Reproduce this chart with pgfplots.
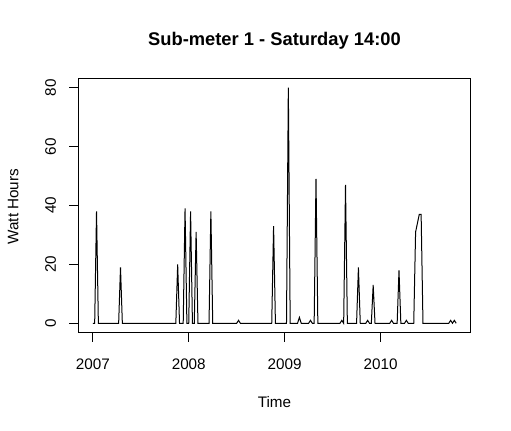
\documentclass[border=0pt]{standalone}
\usepackage{fontspec}
\setmainfont{Liberation Sans}
\usepackage{pgfplots}
\pgfplotsset{compat=1.18}
\begin{document}
\fontsize{15.3}{18}\selectfont
\begin{tikzpicture}
\begin{axis}[
  at={(0,0)}, anchor=south west,
  scale only axis, width=392.4bp, height=254.4bp,
  xmin=-7.88, xmax=204.88, ymin=-3.2, ymax=83.2,
  xtick={0,52,104,156}, xticklabels={2007,2008,2009,2010},
  ytick={0,20,40,60,80},
  tick align=outside, major tick length=9bp,
  xtick pos=left, ytick pos=left,
  tick style={black, line width=0.8bp},
  axis line style={line width=0.8bp},
  /pgf/number format/assume math mode=true,
  ticklabel style={font=\fontsize{15.3}{18}\selectfont, inner sep=0pt},
  xticklabel style={anchor=base},
  xticklabel shift=27.3bp,
  yticklabel style={rotate=90, anchor=base},
  yticklabel shift=13.3bp,
]
\addplot[black, line width=1bp, mark=none] coordinates {
(0,0) (1,0) (2,38) (3,0) (4,0) (5,0) (6,0) (7,0) (8,0) (9,0)
(10,0) (11,0) (12,0) (13,0) (14,0) (15,19) (16,0) (17,0) (18,0) (19,0)
(20,0) (21,0) (22,0) (23,0) (24,0) (25,0) (26,0) (27,0) (28,0) (29,0)
(30,0) (31,0) (32,0) (33,0) (34,0) (35,0) (36,0) (37,0) (38,0) (39,0)
(40,0) (41,0) (42,0) (43,0) (44,0) (45,0) (46,20) (47,0) (48,0) (49,0)
(50,39) (51,0) (52,0) (53,38) (54,0) (55,0) (56,31) (57,0) (58,0) (59,0)
(60,0) (61,0) (62,0) (63,0) (64,38) (65,0) (66,0) (67,0) (68,0) (69,0)
(70,0) (71,0) (72,0) (73,0) (74,0) (75,0) (76,0) (77,0) (78,0) (79,1)
(80,0) (81,0) (82,0) (83,0) (84,0) (85,0) (86,0) (87,0) (88,0) (89,0)
(90,0) (91,0) (92,0) (93,0) (94,0) (95,0) (96,0) (97,0) (98,33) (99,0)
(100,0) (101,0) (102,0) (103,0) (104,0) (105,0) (106,80) (107,0) (108,0) (109,0)
(110,0) (111,0) (112,2) (113,0) (114,0) (115,0) (116,0) (117,0) (118,1) (119,0)
(120,0) (121,49) (122,0) (123,0) (124,0) (125,0) (126,0) (127,0) (128,0) (129,0)
(130,0) (131,0) (132,0) (133,0) (134,0) (135,1) (136,0) (137,47) (138,0) (139,0)
(140,0) (141,0) (142,0) (143,0) (144,19) (145,0) (146,0) (147,0) (148,0) (149,1)
(150,0) (151,0) (152,13) (153,0) (154,0) (155,0) (156,0) (157,0) (158,0) (159,0)
(160,0) (161,0) (162,1) (163,0) (164,0) (165,0) (166,18) (167,0) (168,0) (169,0)
(170,1) (171,0) (172,0) (173,0) (174,0) (175,31) (176,34) (177,37) (178,37) (179,0)
(180,0) (181,0) (182,0) (183,0) (184,0) (185,0) (186,0) (187,0) (188,0) (189,0)
(190,0) (191,0) (192,0) (193,0) (194,1) (195,0) (196,1) (197,0)
};
\end{axis}
\node[anchor=base, font=\bfseries\fontsize{18.4}{22}\selectfont] at (196.2bp,287.2bp) {Sub-meter 1 - Saturday 14:00};
\node[anchor=base] at (196.2bp,-74.5bp) {Time};
\node[anchor=base, rotate=90] at (-59.8bp,126bp) {Watt Hours};
\pgfresetboundingbox
\useasboundingbox (-78.3bp,-98.3bp) rectangle (432.7bp,332.7bp);
\end{tikzpicture}
\end{document}
